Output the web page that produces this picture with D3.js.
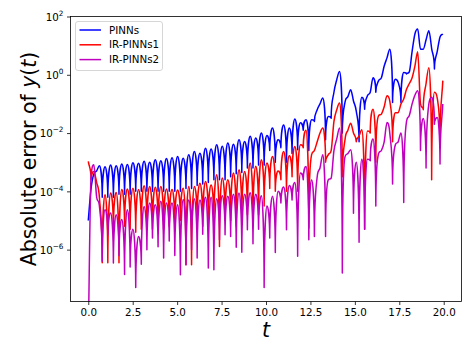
<!DOCTYPE html>
<html><head><meta charset="utf-8">
<script src="https://cdn.jsdelivr.net/npm/d3@7"></script>
<style>
body{margin:0;background:#fff;}
svg{display:block;font-family:"DejaVu Sans",sans-serif;}
</style>
</head><body>
<svg id="chart" width="473" height="355"></svg>
<script>
// ---------- data (stored as log10 of the absolute error) ----------
const seriesNames = ["PINNs", "IR-PINNs1", "IR-PINNs2"];
const seriesColors = ["#0000ff", "#ff0000", "#bf00bf"];
const xTickValues = [0, 2.5, 5, 7.5, 10, 12.5, 15, 17.5, 20];
const yTickExponents = [-6, -4, -2, 0, 2];
// sample times: every half period of the oscillation (pi/20), t = 0 ... 19.95
const tSamples = d3.range(128).map(i => i * Math.PI / 20);

const pinnsLog10 = [
 -5.0,-3.9,-3.4,-3.3,-3.12,-4.2,-3.16,-4.2,-3.1,-4.2,-3.12,-4.1,-3.06,-4.1,-3.08,-4.1,
 -3.02,-4.0,-3.04,-4.0,-2.97,-4.0,-3.0,-4.0,-2.92,-4.0,-2.95,-4.0,-2.87,-4.0,-2.85,-4.0,
 -2.80,-4.0,-2.86,-3.9,-2.74,-3.9,-2.63,-3.8,-2.69,-3.75,-2.52,-3.7,-2.55,-3.6,-2.40,-3.6,
 -2.45,-3.6,-2.34,-3.5,-2.38,-3.4,-2.23,-3.35,-2.29,-3.2,-2.11,-3.2,-2.17,-3.1,-2.0,-3.1,
 -2.08,-2.6,-1.83,-3.0,-2.23,-2.5,-1.72,-3.0,-1.83,-2.7,-1.52,-2.57,-1.65,-1.9,-1.54,-2.6,
 -1.54,-1.6,-1.2,-1.0,-0.80,-2.23,-1.43,-1.49,-0.6,-0.17,0.11,-2.0,-0.92,-0.75,-0.51,-0.9,
 -1.25,-2.3,-0.77,-1.18,-0.72,-0.6,-0.1,-0.6,-0.2,-0.1,0.3,0.58,0.88,-0.95,-0.15,-0.26,
 -0.95,0.08,0.03,0.1,0.8,1.4,1.57,0.88,0.88,1.2,1.51,0.9,0.2,0.8,1.3,1.4
];
const irPinns1Log10 = [
 -2.97,-3.6,-3.32,-3.7,-4.23,-6.45,-4.12,-6.45,-4.06,-5.3,-4.04,-6.45,-3.94,-5.2,-3.92,-5.3,
 -3.89,-5.4,-3.94,-5.3,-3.81,-5.2,-3.83,-5.3,-3.86,-5.2,-3.83,-5.3,-3.92,-5.2,-3.94,-5.2,
 -3.95,-5.0,-3.89,-6.52,-3.83,-6.52,-3.83,-5.0,-3.72,-5.2,-3.66,-5.0,-3.78,-5.1,-3.43,-5.89,
 -3.54,-5.0,-3.6,-5.0,-3.37,-5.2,-3.26,-5.0,-3.32,-4.8,-3.03,-5.0,-3.14,-4.8,-2.92,-4.5,
 -3.03,-3.9,-2.80,-4.0,-3.3,-3.6,-2.63,-4.0,-2.78,-3.5,-2.46,-4.0,-2.4,-2.5,-1.9,-5.26,
 -2.74,-2.6,-2.3,-2.0,-1.83,-3.0,-2.74,-2.6,-1.6,-1.2,-0.97,-3.5,-2.2,-1.9,-1.66,-2.0,
 -2.3,-2.1,-1.89,-5.3,-1.93,-2.0,-1.18,-3.0,-1.4,-1.35,-1.1,-0.72,-0.9,-2.3,-1.3,-1.3,
 -1.0,-0.83,-0.5,-0.3,-0.1,0.3,0.79,-1.0,-1.2,-0.3,0.24,-3.6,-0.6,-0.8,-2.3,-0.2
];
// first value is an exact zero in the source (drawn to the bottom edge); -9 stands below the axis
const irPinns2Log10 = [
 -9,-3.5,-3.09,-4.2,-4.52,-6.4,-4.63,-5.5,-4.74,-6.46,-4.8,-6.2,-4.97,-6.85,-4.63,-6.6,
 -5.3,-7.3,-5.55,-6.5,-4.52,-6.0,-4.4,-5.6,-4.46,-5.9,-4.34,-6.29,-4.4,-5.7,-4.4,-6.2,
 -4.46,-6.86,-4.28,-6.52,-4.3,-6.0,-4.25,-6.29,-4.3,-5.47,-4.2,-6.63,-4.2,-6.69,-4.25,-5.66,
 -4.15,-5.49,-4.17,-5.55,-4.1,-5.92,-4.06,-6.09,-4.1,-5.32,-4.05,-5.8,-4.1,-5.3,-4.15,-7.3,
 -4.5,-5.6,-4.17,-6.1,-4.0,-4.4,-3.85,-5.32,-3.8,-4.3,-3.7,-6.23,-3.37,-3.6,-3.15,-5.66,
 -3.6,-5.55,-3.5,-3.2,-2.74,-5.55,-3.6,-3.55,-2.6,-2.2,-1.83,-6.8,-2.8,-2.7,-2.57,-4.75,
 -3.0,-5.75,-2.9,-5.3,-2.9,-2.95,-2.2,-4.5,-2.7,-2.6,-2.3,-1.64,-2.0,-3.75,-2.4,-2.3,
 -2.0,-4.38,-1.6,-1.4,-1.0,-0.7,-0.55,-2.6,-1.5,-3.2,-1.0,-0.77,-1.7,-1.47,-3.06,-1.0
];
const seriesLog10 = [pinnsLog10, irPinns1Log10, irPinns2Log10];

// ---------- custom curve: smooth rounded humps, sharp cusps at local minima ----------
function CuspCurve(context) { this._ctx = context; }
CuspCurve.prototype = {
  areaStart() {}, areaEnd() {},
  lineStart() { this._p = []; },
  point(px, py) { this._p.push([+px, +py]); },
  lineEnd() {
    const p = this._p, n = p.length, c = this._ctx;
    if (!n) return;
    c.moveTo(p[0][0], p[0][1]);
    if (n === 1) return;
    // in screen space a local minimum of the value is a local maximum of y
    const isDip = p.map((q, i) => i > 0 && i < n - 1 && q[1] > p[i - 1][1] && q[1] > p[i + 1][1]);
    const s = [];
    for (let i = 0; i < n - 1; i++) s.push((p[i + 1][1] - p[i][1]) / (p[i + 1][0] - p[i][0]));
    const m = p.map((q, i) => {
      if (i === 0) return s[0];
      if (i === n - 1) return s[n - 2];
      const a = s[i - 1], b = s[i];
      if (a * b <= 0) return 0;
      const avg = (a + b) / 2;
      const lim = 3 * Math.min(Math.abs(a), Math.abs(b));
      return Math.sign(avg) * Math.min(Math.abs(avg), lim);
    });
    for (let i = 0; i < n - 1; i++) {
      const A = p[i], B = p[i + 1], dx = B[0] - A[0];
      let c1, c2;
      if (isDip[i + 1] && !isDip[i]) {
        c1 = [A[0] + dx / 3, A[1] + m[i] * dx / 3];
        c2 = [B[0] - 0.05 * dx, A[1] + 0.3 * (B[1] - A[1])];
      } else if (isDip[i] && !isDip[i + 1]) {
        c1 = [A[0] + 0.05 * dx, B[1] + 0.3 * (A[1] - B[1])];
        c2 = [B[0] - dx / 3, B[1] - m[i + 1] * dx / 3];
      } else {
        c1 = [A[0] + dx / 3, A[1] + m[i] * dx / 3];
        c2 = [B[0] - dx / 3, B[1] - m[i + 1] * dx / 3];
      }
      c.bezierCurveTo(c1[0], c1[1], c2[0], c2[1], B[0], B[1]);
    }
  }
};
const curveCusp = ctx => new CuspCurve(ctx);

// ---------- layout ----------
const svg = d3.select("#chart");
const L = 70.5, R = 461.5, T = 16.5, B = 301.5;
const x = d3.scaleLinear().domain([-1, 21]).range([L, R]);
const y = d3.scaleLog().domain([Math.pow(10, -7.78), 100]).range([B, T]);

svg.append("rect").attr("width", 473).attr("height", 355).attr("fill", "#fff");

svg.append("clipPath").attr("id", "plotclip")
  .append("rect").attr("x", L).attr("y", T).attr("width", R - L).attr("height", B - T);

const line = d3.line()
  .x(d => x(d.t))
  .y(d => y(d.v))
  .curve(curveCusp);

const gLines = svg.append("g").attr("clip-path", "url(#plotclip)");
seriesLog10.forEach((arr, si) => {
  const pts = arr.map((e, i) => ({ t: tSamples[i], v: Math.pow(10, e) }));
  gLines.append("path")
    .datum(pts)
    .attr("d", line)
    .attr("fill", "none")
    .attr("stroke", seriesColors[si])
    .attr("stroke-width", 1.5)
    .attr("stroke-linejoin", "round");
});

// axes
const fs = 10.3;
const xAxis = d3.axisBottom(x).tickValues(xTickValues).tickFormat(d3.format(".1f"))
  .tickSize(3.5).tickPadding(3.5).tickSizeOuter(0);
const gx = svg.append("g").attr("transform", `translate(0,${B})`).call(xAxis);
gx.select(".domain").remove();
gx.selectAll("line").attr("stroke", "#000").attr("stroke-width", 0.8);
gx.selectAll("text").attr("font-size", fs).attr("font-family", "DejaVu Sans").attr("fill", "#000");

const yAxis = d3.axisLeft(y).tickValues(yTickExponents.map(e => Math.pow(10, e)))
  .tickFormat("").tickSize(3.5).tickPadding(3.5).tickSizeOuter(0);
const gy = svg.append("g").attr("transform", `translate(${L},0)`).call(yAxis);
gy.select(".domain").remove();
gy.selectAll("line").attr("stroke", "#000").attr("stroke-width", 0.8);
gy.selectAll("text").remove();
yTickExponents.forEach(e => {
  const yy = y(Math.pow(10, e));
  const txt = svg.append("text")
    .attr("x", L - 7).attr("y", yy + 4.2)
    .attr("text-anchor", "end")
    .attr("font-size", fs).attr("fill", "#000");
  txt.append("tspan").text("10");
  txt.append("tspan").attr("font-size", 7.3).attr("dy", -4.8)
    .text(e < 0 ? "\u2212" + Math.abs(e) : String(e));
});

// frame
svg.append("rect").attr("x", L).attr("y", T).attr("width", R - L).attr("height", B - T)
  .attr("fill", "none").attr("stroke", "#000").attr("stroke-width", 0.8);

// axis labels
svg.append("text")
  .attr("x", x(10)).attr("y", 337)
  .attr("text-anchor", "middle")
  .attr("font-size", 20.5).attr("font-style", "italic").attr("fill", "#000")
  .text("t");

const yl = svg.append("text")
  .attr("transform", `translate(35.5,${(T + B) / 2}) rotate(-90)`)
  .attr("text-anchor", "middle")
  .attr("font-size", 20.5).attr("fill", "#000");
yl.append("tspan").text("Absolute error of ");
yl.append("tspan").attr("font-style", "italic").text("y");
yl.append("tspan").text("(");
yl.append("tspan").attr("font-style", "italic").text("t");
yl.append("tspan").text(")");

// legend
const lg = svg.append("g");
lg.append("rect").attr("x", 75.5).attr("y", 21.5).attr("width", 87).attr("height", 49)
  .attr("rx", 2.5).attr("fill", "#fff").attr("fill-opacity", 0.8)
  .attr("stroke", "#cccccc").attr("stroke-width", 0.8);
seriesNames.forEach((name, i) => {
  const yy = 30 + i * 14.8;
  lg.append("line").attr("x1", 79.5).attr("x2", 101).attr("y1", yy).attr("y2", yy)
    .attr("stroke", seriesColors[i]).attr("stroke-width", 1.5);
  lg.append("text").attr("x", 109).attr("y", yy + 3.6)
    .attr("font-size", fs).attr("fill", "#000").text(name);
});
</script>
</body></html>
